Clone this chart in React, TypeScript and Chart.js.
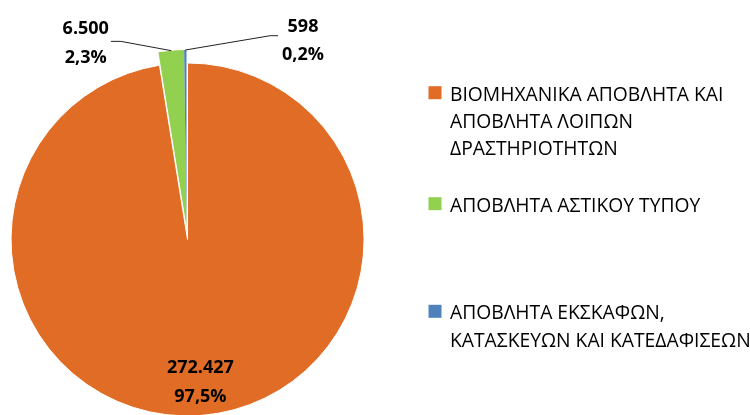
import React, { useEffect, useRef } from "react";
import { Chart, registerables } from "chart.js";

Chart.register(...registerables);

const categories: string[][] = [
  ["ΒΙΟΜΗΧΑΝΙΚΑ ΑΠΟΒΛΗΤΑ ΚΑΙ", "ΑΠΟΒΛΗΤΑ ΛΟΙΠΩΝ", "ΔΡΑΣΤΗΡΙΟΤΗΤΩΝ"],
  ["ΑΠΟΒΛΗΤΑ ΑΣΤΙΚΟΥ ΤΥΠΟΥ"],
  ["ΑΠΟΒΛΗΤΑ ΕΚΣΚΑΦΩΝ,", "ΚΑΤΑΣΚΕΥΩΝ ΚΑΙ ΚΑΤΕΔΑΦΙΣΕΩΝ"],
];
const values: number[] = [272427, 6500, 598];
const colors: string[] = ["#E06C26", "#92D050", "#4F81BD"];
const explodePx: number[] = [13, 0, 0];

const total = values.reduce((a, b) => a + b, 0);
const fmtThousands = (v: number) =>
  String(v).replace(/\B(?=(\d{3})+(?!\d))/g, ".");
const fmtPct = (v: number) => ((v / total) * 100).toFixed(1).replace(".", ",") + "%";

const LABEL_FONT = "bold 18px 'Open Sans'";
const LEGEND_FONT = "19.3px 'Open Sans'";

// pulls slices out of the pie along their mid-angle (Excel-style explosion)
const explodePlugin = {
  id: "explodeSlices",
  afterDatasetsUpdate(chart: any) {
    const meta = chart.getDatasetMeta(0);
    meta.data.forEach((arc: any, i: number) => {
      const d = explodePx[i] || 0;
      if (!d) return;
      const mid = (arc.startAngle + arc.endAngle) / 2;
      arc.x += Math.cos(mid) * d;
      arc.y += Math.sin(mid) * d;
    });
  },
};

const labelPlugin = {
  id: "sliceLabels",
  afterDatasetsDraw(chart: any) {
    const ctx = chart.ctx as CanvasRenderingContext2D;
    const meta = chart.getDatasetMeta(0);
    ctx.save();
    ctx.font = LABEL_FONT;
    ctx.fillStyle = "#000";
    ctx.textAlign = "center";
    ctx.textBaseline = "alphabetic";
    meta.data.forEach((arc: any, i: number) => {
      const { x, y, startAngle, endAngle, outerRadius } = arc.getProps(
        ["x", "y", "startAngle", "endAngle", "outerRadius"],
        true
      );
      const mid = (startAngle + endAngle) / 2;
      const l1 = fmtThousands(values[i]);
      const l2 = fmtPct(values[i]);
      if (i === 0) {
        const ax = x + Math.cos(mid) * outerRadius * 0.81 + 1.5;
        const ay = y + Math.sin(mid) * outerRadius * 0.81;
        ctx.fillText(l1, ax, ay - 9);
        ctx.fillText(l2, ax, ay + 20);
        return;
      }
      const px = x + Math.cos(mid) * outerRadius;
      const py = y + Math.sin(mid) * outerRadius;
      const left = i === 1;
      const cx = left ? px - 85.5 : px + 117.7;
      const by = left ? py - 16.3 : py - 18.3;
      ctx.fillText(l1, cx, by);
      ctx.fillText(l2, cx, by + 28.3);
      const w = Math.max(ctx.measureText(l1).width, ctx.measureText(l2).width);
      const edge = left ? cx + w / 2 + 2 : cx - w / 2 - 4;
      const elbow = left ? edge + 10 : edge - 8;
      const ly = left ? py - 9.3 : py - 14.3;
      ctx.beginPath();
      ctx.strokeStyle = "#222";
      ctx.lineWidth = 1;
      ctx.moveTo(px, py);
      ctx.lineTo(elbow, ly);
      ctx.lineTo(edge, ly);
      ctx.stroke();
    });
    ctx.restore();
  },
};

const legendPlugin = {
  id: "sideLegend",
  afterDraw(chart: any) {
    const ctx = chart.ctx as CanvasRenderingContext2D;
    const itemTops = [100.7, 211.7, 319.3];
    const lineGap = 27.3;
    ctx.save();
    ctx.font = LEGEND_FONT;
    ctx.textAlign = "left";
    ctx.textBaseline = "alphabetic";
    categories.forEach((lines, i) => {
      const base = itemTops[i];
      ctx.fillStyle = colors[i];
      ctx.fillRect(428.5, base - 14.5, 13, 13);
      ctx.fillStyle = "#000";
      lines.forEach((t, j) => ctx.fillText(t, 450, base + j * lineGap));
    });
    ctx.restore();
  },
};

export default function App() {
  const ref = useRef<HTMLCanvasElement | null>(null);
  useEffect(() => {
    if (!ref.current) return;
    const chart = new Chart(ref.current, {
      type: "pie",
      data: {
        labels: categories.map((c) => c.join(" ")),
        datasets: [
          {
            data: values,
            backgroundColor: colors,
            borderColor: "#ffffff",
            borderWidth: [1, 0, 0],
            hoverOffset: 0,
            radius: 176.5,
          } as any,
        ],
      },
      options: {
        animation: false,
        responsive: false,
        devicePixelRatio: 1,
        radius: 176.5,
        events: [],
        layout: { padding: { left: 0, right: 377, top: 38, bottom: 0 } },
        plugins: {
          legend: { display: false },
          tooltip: { enabled: false },
          title: { display: false },
        },
      } as any,
      plugins: [explodePlugin, labelPlugin, legendPlugin],
    });
    return () => chart.destroy();
  }, []);
  return (
    <div style={{ position: "fixed", left: 0, top: 0, width: 750, height: 415, background: "#fff" }}>
      <canvas ref={ref} width={750} height={415} style={{ width: 750, height: 415 }} />
    </div>
  );
}
